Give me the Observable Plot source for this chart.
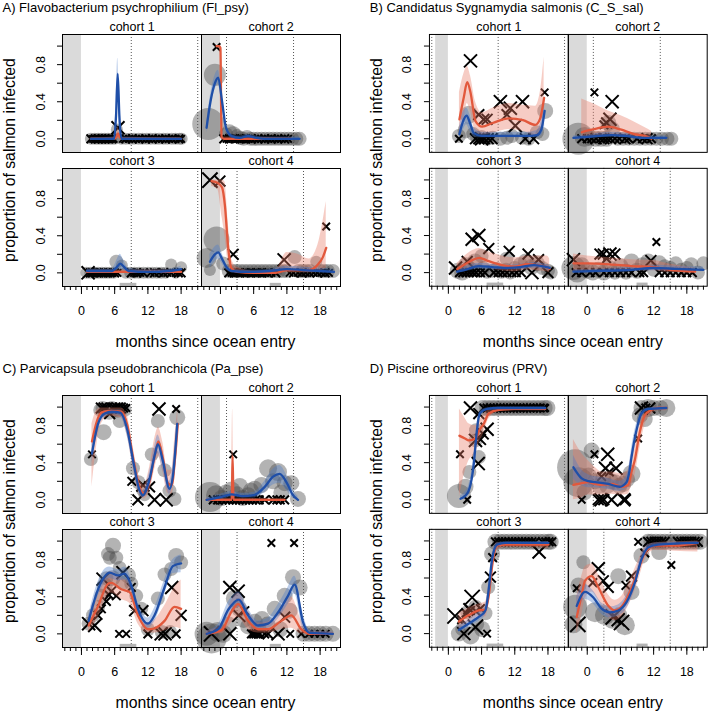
<!DOCTYPE html>
<html><head><meta charset="utf-8">
<script src="https://cdn.jsdelivr.net/npm/d3@7"></script>
<script src="https://cdn.jsdelivr.net/npm/@observablehq/plot@0.6"></script>
<style>
body{margin:0;background:#fff;font-family:"Liberation Sans",Arial,Helvetica,sans-serif;color:#000;}
#root{position:relative;width:708px;height:713px;overflow:hidden;background:#fff;}
.abs{position:absolute;white-space:nowrap;}
</style></head><body><div id="root"></div>
<script>
// ---------- labels ----------
const panelTitles = ["A) Flavobacterium psychrophilium (Fl_psy)", "B) Candidatus Sygnamydia salmonis (C_S_sal)",
  "C) Parvicapsula pseudobranchicola (Pa_pse)", "D) Piscine orthoreovirus (PRV)"];
const cohortLabels = ["cohort 1", "cohort 2", "cohort 3", "cohort 4"];
const xTitle = "months since ocean entry";
const yTitle = "proportion of salmon infected";
const xTickLabels = [0, 6, 12, 18];
const xMinorTicks = [-3,-2,-1,0,1,2,3,4,5,6,7,8,9,10,11,12,13,14,15,16,17,18,19,20,21];
const yTicks = [0, 0.2, 0.4, 0.6, 0.8, 1.0];
const yTickLabels = [0, 0.4, 0.8];
// [cohort, month]
const dottedLines = [[1,-3],[1,9],[1,21],[2,1.1],[2,13.2],[3,-3],[3,9],[3,21],[4,3],[4,15]];
// [cohort, from, to]
const sampleRects = [[3,7,10],[4,9,11]];
// shaded pre-entry period [cohort, from, to]  (null = axis start)
const shadeFull = [[1,null,0],[2,null,0],[3,null,0],[4,null,0]];
const shadePart = [[1,-2.3,0],[2,null,0],[3,-2.3,0],[4,null,0]];

// ---------- A) Fl_psy ----------  circles/crosses: [cohort, x, y, r]
const A_circles = [
[1,1.7,0,6],[1,2.4,0,6],[1,3.0,0,6],[1,3.6,0,6],[1,4.2,0,6],[1,4.8,0,6],[1,5.4,0,6],[1,6.0,0,6],[1,6.4,0.1,6],[1,7.2,0,6],[1,8.0,0,6],[1,8.8,0,6],[1,9.5,0,6],[1,10.3,0,6],[1,11.0,0,6],[1,11.8,0,6],[1,12.5,0,6],[1,13.3,0,6],[1,14.0,0,6],[1,14.8,0,6],[1,15.5,0,6],[1,16.3,0,6],[1,17.0,0,6],[1,17.7,0,6],[1,18.1,0,6],
[2,-2.2,0.16,16],[2,-1.0,0.69,11],[2,1.0,0.05,7],[2,1.6,0.07,8],[2,2.3,0.05,8],[2,3.0,0.03,7],[2,3.6,0.01,7],[2,4.2,0,7],[2,4.8,0.02,7],[2,5.4,0,7],[2,6.0,0,7],[2,6.7,0,7],[2,7.4,0,7],[2,8.1,0,7],[2,8.8,0,7],[2,9.5,0,7],[2,10.2,0,7],[2,10.9,0,7],[2,11.6,0,7],[2,12.3,0,7],[2,13.0,0,7],[2,13.7,0,7],[2,14.3,0,7],
[3,0.9,0,6],[3,1.6,0,6],[3,2.3,0,6],[3,3.0,0,6],[3,3.7,0,6],[3,4.4,0,6],[3,5.1,0,6],[3,5.8,0,6],[3,6.3,0.12,7],[3,7.3,0.08,6],[3,8.0,0,6],[3,8.8,0,6],[3,9.6,0,6],[3,10.4,0,6],[3,11.2,0,6],[3,12.0,0,6],[3,12.8,0,6],[3,13.6,0,6],[3,14.4,0,6],[3,15.2,0,6],[3,16.2,0.09,6],[3,17.0,0,6],[3,18.0,0.06,6],
[4,-2.5,0.16,10],[4,-1.9,0.03,6],[4,-0.7,0.36,13],[4,0.5,0.1,7],[4,1.5,0.02,7],[4,2.2,0.02,7],[4,2.9,0.02,7],[4,3.6,0.02,7],[4,4.3,0.02,7],[4,5.0,0.02,7],[4,5.7,0.02,7],[4,6.4,0.02,7],[4,7.1,0.02,7],[4,7.8,0.02,7],[4,8.5,0.02,7],[4,9.2,0.02,7],[4,9.9,0.02,7],[4,10.6,0.02,7],[4,11.3,0.02,7],[4,12.0,0.02,7],[4,13.4,0.17,7],[4,14.1,0.02,7],[4,14.8,0.02,7],[4,15.5,0.02,7],[4,16.2,0.02,7],[4,17.3,0.12,6],[4,18.0,0.02,7],[4,18.7,0.02,7],[4,19.4,0.02,7],[4,20.3,0.02,7]];
const A_crosses = [
[1,1.7,0,4],[1,2.1,0,3.5],[1,2.5,0,4],[1,2.8,0,3.5],[1,3.1,0,4],[1,3.4,0,3.5],[1,3.7,0,4],[1,4.0,0,3.5],[1,4.3,0,4],[1,4.6,0,3.5],[1,4.9,0,4],[1,5.2,0,3.5],[1,5.5,0,4],[1,5.8,0,3.5],[1,6.6,0.12,6],[1,7.5,0,3.5],[1,8.0,0,4],[1,8.6,0,3.5],[1,9.2,0,4],[1,9.8,0,3.5],[1,10.4,0,4],[1,11.0,0,3.5],[1,11.6,0,4],[1,12.2,0,3.5],[1,12.8,0,4],[1,13.4,0,3.5],[1,14.0,0,4],[1,14.6,0,3.5],[1,15.2,0,4],[1,15.8,0,3.5],[1,16.4,0,4],[1,17.0,0,3.5],[1,17.6,0,4],[1,18.0,0,3.5],
[2,-0.7,0.99,3.5],[2,0.6,0,4],[2,1.1,0,3.5],[2,1.6,0,4],[2,2.1,0,3.5],[2,2.6,0,4],[2,3.1,0,3.5],[2,3.6,0,4],[2,4.1,0,3.5],[2,4.6,0,4],[2,5.1,0,3.5],[2,5.6,0,4],[2,6.2,0,3.5],[2,6.8,0,4],[2,7.4,0,3.5],[2,8.0,0,4],[2,8.6,0,3.5],[2,9.2,0,4],[2,9.8,0,3.5],[2,10.4,0,4],[2,11.0,0,3.5],[2,11.6,0,4],[2,12.2,0,3.5],
[3,1.2,0,6],[3,1.6,0,4],[3,2.0,0,4],[3,2.4,0,3.5],[3,2.8,0,4],[3,3.2,0,3.5],[3,3.6,0,4],[3,4.0,0,3.5],[3,4.4,0,4],[3,4.8,0,3.5],[3,5.2,0,4],[3,5.6,0,3.5],[3,6.0,0,4],[3,6.5,0,3.5],[3,9.0,0,4],[3,9.5,0,3.5],[3,10.0,0,4],[3,10.6,0,3.5],[3,11.2,0,4],[3,12.5,0,3.5],[3,13.2,0,4],[3,14.0,0,3.5],[3,14.8,0,4],[3,15.5,0,3.5],[3,16.2,0,4],[3,17.0,0,3.5],[3,17.5,0,4],[3,18.0,0,4],
[4,-1.9,1.0,7],[4,-0.1,0.99,5],[4,2.3,0.2,5],[4,11.5,0.14,6],[4,19.1,0.5,3.5],[4,1.5,0,4],[4,2.0,0,3.5],[4,2.5,0,4],[4,3.0,0,3.5],[4,3.5,0,4],[4,4.0,0,3.5],[4,4.5,0,4],[4,5.0,0,3.5],[4,5.5,0,4],[4,6.0,0,3.5],[4,6.5,0,4],[4,7.0,0,3.5],[4,7.5,0,4],[4,8.0,0,3.5],[4,8.5,0,4],[4,9.2,0,3.5],[4,10.0,0,4],[4,12.5,0,3.5],[4,13.2,0,4],[4,14.0,0,3.5],[4,14.7,0,4],[4,15.4,0,3.5],[4,16.1,0,4],[4,16.8,0,3.5],[4,17.5,0,4],[4,18.2,0,3.5],[4,18.9,0,4],[4,19.6,0,3.5]];
// smooths: [cohort, x, fit, lower, upper]
const A_red = [
[1,1.7,0,0,0.01],[1,5.8,0,0,0.01],[1,6.3,0.02,0,0.06],[1,6.6,0.06,0,0.13],[1,6.9,0.02,0,0.06],[1,7.4,0,0,0.01],[1,18,0,0,0.01],
[2,-0.7,1.0,0.98,1.0],[2,-0.2,1.0,0.98,1.0],[2,0.0,0.98,0.95,1.0],[2,0.2,0.02,0,0.05],[2,0.6,0,0,0.02],[2,12.8,0,0,0.01],
[3,1.0,0.01,0,0.03],[3,6,0.01,0,0.03],[3,12,0.01,0,0.03],[3,18,0.01,0,0.03],
[4,-1.6,0.99,0.93,1.0],[4,-0.5,0.97,0.9,1.0],[4,0.3,0.92,0.6,1.0],[4,0.8,0.73,0.4,0.98],[4,1.4,0.27,0.1,0.55],[4,2.0,0.05,0,0.15],[4,3.0,0.01,0,0.06],[4,6,0,0,0.02],[4,10,0,0,0.04],[4,12,0.03,0,0.22],[4,14,0.03,0,0.2],[4,16,0.03,0,0.15],[4,17.6,0.09,0.01,0.3],[4,18.5,0.17,0.03,0.55],[4,19.1,0.27,0.05,0.77]];
const A_blue = [
[1,1.7,0,0,0.01],[1,5.9,0,0,0.02],[1,6.25,0.25,0.12,0.4],[1,6.55,0.7,0.55,0.87],[1,6.85,0.25,0.12,0.4],[1,7.2,0,0,0.02],[1,18,0,0,0.01],
[2,-2.5,0.12,0.06,0.18],[2,-1.8,0.4,0.33,0.47],[2,-1.0,0.6,0.53,0.68],[2,-0.4,0.66,0.59,0.74],[2,0.3,0.4,0.33,0.47],[2,1.0,0.12,0.08,0.16],[2,2.0,0.03,0.01,0.05],[2,3.5,0.01,0,0.03],[2,5.0,0.03,0.01,0.05],[2,6.5,0.01,0,0.03],[2,8,0,0,0.02],[2,14.3,0,0,0.02],
[3,1.0,0.02,0,0.04],[3,5.5,0.02,0,0.04],[3,6.5,0.07,0.03,0.15],[3,7.0,0.1,0.04,0.2],[3,7.6,0.07,0.03,0.14],[3,8.5,0.02,0,0.05],[3,12,0.01,0,0.03],[3,16,0.02,0,0.04],[3,18,0.04,0.01,0.07],
[4,-1.9,0.12,0.05,0.2],[4,-1.0,0.2,0.12,0.28],[4,-0.4,0.22,0.15,0.3],[4,0.3,0.15,0.1,0.21],[4,1.0,0.07,0.03,0.1],[4,2.0,0.02,0.01,0.04],[4,5,0.01,0,0.03],[4,9,0.02,0,0.04],[4,12,0.04,0.02,0.07],[4,15,0.03,0.01,0.06],[4,18,0.02,0,0.05],[4,20.5,0.01,0,0.04]];

// ---------- B) C_S_sal ----------
const B_circles = [
[1,1.9,0.03,7],[1,3.1,0.09,8],[1,3.7,0.26,9],[1,4.5,0.05,7],[1,5.2,0.01,7],[1,6.0,0.02,7],[1,7.0,0,7],[1,8.0,0.01,7],[1,9.4,0,7],[1,10.6,0.01,7],[1,11.5,0.03,7],[1,13.3,0.01,7],[1,14.5,0,7],[1,16.0,0.07,7],[1,17.0,0.05,7],[1,17.5,0.3,8],
[2,-1.6,0,16],[2,-0.5,0.02,10],[2,0.5,0.01,8],[2,1.5,0,8],[2,2.5,0,8],[2,3.5,0,8],[2,3.8,0.17,8],[2,4.5,0.1,8],[2,5.5,0,7],[2,6.5,0,7],[2,7.5,0,7],[2,8.5,0,7],[2,9.5,0,7],[2,10.5,0,7],[2,11.5,0,7],[2,12.5,0,7],[2,13.5,0,7],[2,14.5,0,7],[2,15.2,0,7],
[3,1.7,0.02,8],[3,2.5,0,8],[3,3.2,0.08,8],[3,4.0,0.03,8],[3,4.8,0.12,8],[3,5.5,0.02,7],[3,6.0,0.18,7],[3,6.3,0.05,7],[3,7.0,0.01,7],[3,8.0,0.02,7],[3,8.8,0.04,7],[3,9.6,0.01,7],[3,10.4,0.03,7],[3,10.5,0.15,7],[3,11.2,0,7],[3,12.0,0.05,7],[3,13.0,0.08,8],[3,14.0,0.12,8],[3,15.0,0.06,8],[3,16.0,0.1,8],[3,17.0,0.05,7],[3,18.0,0.02,7],[3,18.5,0,7],
[4,-2.5,0.05,12],[4,-1.8,0,10],[4,-1,0.08,8],[4,0,0.02,8],[4,1,0,8],[4,2,0.03,8],[4,3,0,8],[4,4,0.05,8],[4,5,0.01,8],[4,6,0.07,8],[4,7,0.01,8],[4,8,0.12,8],[4,9,0.02,8],[4,10,0.08,8],[4,11,0.12,8],[4,12,0.03,7],[4,13,0.1,8],[4,14,0.07,7],[4,15,0.05,7],[4,16,0.1,7],[4,17,0.03,7],[4,18,0.05,7],[4,18.8,0.09,7],[4,20,0,7],[4,21,0.1,7]];
const B_crosses = [
[1,4.0,0.84,6],[1,1.9,0,3.5],[1,5.5,0.26,5],[1,6.4,0.21,5],[1,7.0,0.21,5],[1,9.4,0.4,6],[1,11.2,0.33,6],[1,10.6,0.26,5],[1,12.1,0.14,6],[1,13.4,0.4,6],[1,17.4,0.5,3.5],[1,4.9,0,5],[1,5.5,0,5],[1,6.0,0,6],[1,6.5,0,5],[1,7.2,0,5],[1,7.9,0,5],[1,13.9,0,5],[1,15.4,0,5],
[2,1.3,0.5,3.5],[2,4.5,0.4,6],[2,4.1,0.21,6],[2,3.5,0.17,5],[2,3.0,0.15,4],[2,-1.0,0,4],[2,0.0,0,4],[2,0.8,0,4],[2,1.6,0,5],[2,2.4,0,4],[2,3.0,0,5],[2,3.6,0,4],[2,4.2,0,5],[2,5.0,0,4],[2,5.8,0,4],[2,6.8,0,5],[2,7.5,0,4],[2,9.0,0,4],[2,10.0,0,4],[2,10.8,0,5],[2,11.6,0,4],
[3,4.3,0.36,6],[3,5.5,0.4,6],[3,1.3,0.05,6],[3,3.4,0.12,5],[3,7.3,0.26,5],[3,11.0,0.23,5],[3,14.4,0.2,5],[3,16.3,0.14,5],[3,15.1,0,6],[3,18.0,0,5],[3,2.0,0,4],[3,2.6,0,4],[3,3.2,0,4],[3,3.8,0,4],[3,4.4,0,4],[3,5.0,0,4],[3,5.8,0,4],[3,6.6,0,4],[3,8.2,0,4],[3,9.0,0,4],[3,9.8,0,4],[3,10.6,0,4],[3,11.5,0,4],[3,12.3,0,4],[3,13.2,0,4],
[4,-2.5,0.14,6],[4,2.3,0.2,5],[4,2.9,0.2,5],[4,3.5,0.15,4],[4,4.1,0.2,6],[4,5.0,0.2,5],[4,11.5,0.13,5],[4,12.5,0.33,3.5],[4,-2,0,4],[4,-1,0,4],[4,0.5,0,4],[4,1.5,0,4],[4,3,0,4],[4,4,0,4],[4,5,0,4],[4,6,0,4],[4,7,0,4],[4,8,0,4],[4,9.5,0,4],[4,10.2,0,4],[4,13,0,4],[4,14,0,4],[4,15,0,4],[4,16,0,4],[4,17,0,4],[4,18,0,4],[4,19,0,4]];
const B_red = [
[1,2.0,0.21,0.05,0.5],[1,2.8,0.45,0.2,0.7],[1,3.4,0.61,0.38,0.78],[1,4.0,0.5,0.3,0.68],[1,4.9,0.19,0.07,0.4],[1,6.1,0.13,0.04,0.28],[1,8,0.17,0.06,0.33],[1,10.9,0.22,0.1,0.38],[1,13.5,0.2,0.08,0.36],[1,15.7,0.15,0.03,0.35],[1,16.6,0.22,0.05,0.5],[1,17.3,0.44,0.15,0.88],
[2,-1.0,0.07,0,0.43],[2,1.0,0.1,0.02,0.38],[2,3.8,0.13,0.04,0.3],[2,6,0.1,0.02,0.25],[2,8.5,0.05,0.01,0.18],[2,10.4,0.03,0,0.12],[2,11.6,0,0,0.08],
[3,1.6,0.04,0,0.1],[3,3.0,0.09,0.02,0.18],[3,4.5,0.14,0.06,0.24],[3,5.6,0.16,0.08,0.26],[3,7.0,0.13,0.06,0.23],[3,8.5,0.1,0.03,0.2],[3,9.7,0.08,0.02,0.18],[3,12.1,0.065,0.01,0.16],[3,14.2,0.09,0.03,0.18],[3,16,0.08,0.02,0.18],[3,17.8,0.06,0.01,0.18],[3,18.3,0.04,0,0.15],
[4,-2.5,0.1,0,0.2],[4,0,0.1,0.02,0.18],[4,4,0.09,0.03,0.16],[4,8,0.07,0.02,0.14],[4,12,0.06,0.02,0.13],[4,15,0.03,0,0.09],[4,19.5,0.01,0,0.05]];
const B_blue = [
[1,2.0,0.05,0,0.12],[1,2.6,0.18,0.08,0.28],[1,3.3,0.25,0.15,0.33],[1,3.9,0.17,0.08,0.26],[1,4.6,0.06,0.02,0.12],[1,6,0.03,0.01,0.07],[1,10,0.03,0.01,0.07],[1,14,0.03,0.01,0.07],[1,16.0,0.04,0.01,0.09],[1,16.8,0.1,0.03,0.2],[1,17.4,0.3,0.12,0.45],
[2,-2.5,0.01,0,0.03],[2,0,0.02,0,0.04],[2,2,0.03,0.01,0.06],[2,4.4,0.04,0.02,0.07],[2,7,0.03,0.01,0.06],[2,10,0.01,0,0.03],[2,14.3,0.01,0,0.03],
[3,1.6,0.01,0,0.03],[3,3,0.03,0.01,0.06],[3,5.5,0.07,0.04,0.1],[3,8,0.06,0.03,0.09],[3,10.5,0.05,0.03,0.08],[3,13,0.06,0.03,0.09],[3,15.5,0.08,0.05,0.11],[3,18.3,0.05,0.02,0.08],
[4,-2.5,0.01,0,0.03],[4,3,0.02,0,0.04],[4,8,0.03,0.01,0.06],[4,12,0.05,0.02,0.08],[4,16,0.04,0.02,0.07],[4,21,0.03,0.01,0.06]];

// ---------- C) Pa_pse ----------
const C_circles = [
[1,1.7,0.44,7],[1,3.4,0.97,7],[1,3.8,0.99,7],[1,4.0,0.73,8],[1,4.5,0.97,7],[1,5.0,0.95,8],[1,5.5,0.99,7],[1,6.0,0.97,7],[1,6.5,0.96,7],[1,6.9,0.85,7],[1,7.3,0.98,7],[1,7.8,0.97,7],[1,9.3,0.34,7],[1,10.3,0.19,7],[1,11.0,0.1,6],[1,11.4,0.05,6],[1,12.7,0.49,7],[1,13.8,0.85,7],[1,15.0,0.32,7],[1,15.9,0.1,7],[1,16.8,0.01,7],[1,17.3,0.89,8],
[2,-1.9,0.03,15],[2,-0.8,0.05,10],[2,0.2,0.02,8],[2,1.0,0.08,8],[2,2.0,0.1,9],[2,3.0,0.06,8],[2,3.5,0.15,8],[2,4.0,0.02,8],[2,5.0,0.05,8],[2,5.5,0.1,8],[2,6.2,0.12,8],[2,7.4,0.16,8],[2,8.6,0.34,9],[2,9.5,0.2,8],[2,10.4,0.3,9],[2,11.0,0.08,8],[2,11.6,0.18,8],[2,12.8,0.18,8],[2,14.0,0.01,8],
[3,1.3,0.11,7],[3,2.1,0.2,7],[3,3.0,0.29,7],[3,3.6,0.41,7],[3,4.2,0.52,8],[3,4.5,0.6,7],[3,4.8,0.86,7],[3,5.1,0.82,7],[3,5.6,0.6,8],[3,5.7,0.95,8],[3,6.3,0.82,7],[3,6.9,0.71,7],[3,7.5,0.55,7],[3,8.4,0.63,8],[3,9.0,0.54,7],[3,9.9,0.41,7],[3,10.8,0.27,7],[3,12.0,0.05,7],[3,13.8,0.38,7],[3,14.5,0.02,7],[3,15.0,0.64,7],[3,16.0,0.02,7],[3,16.2,0.7,7],[3,17.1,0.84,8],[3,18.0,0.77,7],
[4,-2.5,0,12],[4,-1.6,-0.05,15],[4,-0.5,0.02,10],[4,0.5,0,9],[4,1.5,0.1,8],[4,2.6,0.38,9],[4,3.4,0.27,8],[4,4.2,0.15,8],[4,5.0,0.08,8],[4,6.2,0.13,8],[4,6.9,0.05,8],[4,7.5,0.16,8],[4,8.5,0.1,8],[4,9.8,0.27,8],[4,10.8,0.05,8],[4,11.6,0.41,8],[4,12.5,0.25,8],[4,13.1,0.61,8],[4,14.3,0.5,8],[4,15,0,8],[4,16,0,8],[4,17,0,8],[4,18,0,8],[4,19,0,8],[4,20.3,0,8]];
const C_crosses = [
[1,1.9,0.49,3.5],[1,3.6,0.99,5],[1,4.1,0.99,5],[1,4.6,0.99,5],[1,5.1,0.93,5],[1,5.5,0.99,5],[1,6.0,0.99,5],[1,6.5,0.99,5],[1,7.0,0.99,5],[1,7.6,0.99,4],[1,8.1,0.99,3.5],[1,9.1,0.2,4],[1,10.2,0,5],[1,11.1,0.16,6],[1,12.3,0.14,5],[1,13.2,0,6],[1,14.0,0.98,6],[1,15.3,0,6],[1,17.1,0.98,3.5],
[2,2.3,0.49,3.5],[2,-1.3,0,4],[2,-0.5,0,4],[2,0.3,0,4],[2,1.0,0,4],[2,1.6,0,4],[2,2.2,0,4],[2,2.8,0,4],[2,3.4,0,4],[2,4.0,0,4],[2,4.6,0,4],[2,5.2,0,4],[2,5.8,0,4],[2,6.4,0,4],[2,7.0,0,4],[2,8.0,0,4],[2,9.5,0,4],[2,10.2,0,4],[2,10.8,0,4],[2,11.6,0,4],
[3,1.3,0.11,6],[3,2.4,0.09,6],[3,3.0,0.2,4],[3,3.6,0.27,4],[3,3.9,0.59,6],[3,4.5,0.35,4],[3,5.0,0.42,4],[3,5.4,0.46,5],[3,6.3,0.41,4],[3,7.5,0.66,6],[3,9.0,0.5,4],[3,9.6,0.25,5],[3,11.1,0.25,5],[3,6.8,0,3.5],[3,8.1,0,3.5],[3,12.0,0,4],[3,14.4,0,6],[3,15.1,0,6],[3,17.1,0,4],[3,16.3,0.5,6],[3,18.0,0.2,5],
[4,1.7,0.5,6],[4,3.2,0.46,6],[4,3.3,0.2,6],[4,4.4,0.25,4],[4,9.2,0.98,3.5],[4,13.3,0.98,3.5],[4,11.6,0.18,5],[4,-1.6,0,7],[4,1.7,0,6],[4,5.6,0,4],[4,6.0,0,4],[4,6.4,0,4],[4,6.8,0,4],[4,7.1,0,4],[4,8.0,0,4],[4,8.6,0,5],[4,10.4,0,6],[4,12.6,0,3.5],[4,14.6,0,3.5],[4,16,0,3.5],[4,17,0,3.5],[4,18,0,3.5],[4,19,0,3.5]];
const C_red = [
[1,1.9,0.63,0.14,0.82],[1,2.8,0.85,0.6,0.97],[1,3.6,0.94,0.82,0.99],[1,5.0,0.96,0.9,0.99],[1,7.2,0.95,0.88,0.99],[1,8.3,0.8,0.68,0.9],[1,9.3,0.46,0.35,0.58],[1,10.3,0.17,0.08,0.28],[1,11.3,0.07,0.01,0.16],[1,12.3,0.2,0.09,0.35],[1,13.3,0.5,0.35,0.68],[1,13.9,0.63,0.47,0.78],[1,14.7,0.45,0.3,0.62],[1,15.6,0.18,0.07,0.32],[1,16.3,0.16,0.06,0.32],[1,16.9,0.45,0.25,0.7],[1,17.4,0.82,0.6,0.98],
[2,-2.5,0,0,0.01],[2,1.9,0,0,0.02],[2,2.05,0,0,0.4],[2,2.2,0.47,0,0.98],[2,2.35,0,0,0.4],[2,2.5,0,0,0.02],[2,11.6,0,0,0.01],
[3,1.3,0.09,0.02,0.18],[3,3.0,0.3,0.18,0.42],[3,4.8,0.54,0.42,0.66],[3,5.4,0.55,0.44,0.67],[3,7.2,0.48,0.37,0.6],[3,8.7,0.45,0.33,0.57],[3,10.2,0.2,0.11,0.3],[3,12,0.05,0.01,0.12],[3,13.2,0.06,0.01,0.15],[3,15,0.14,0.03,0.3],[3,16.8,0.29,0.07,0.5],[3,18,0.27,0.05,0.58],
[4,-2.5,0,0,0.03],[4,0.2,0.04,0,0.1],[4,2.0,0.24,0.12,0.36],[4,3.2,0.32,0.18,0.44],[4,5.0,0.14,0.05,0.25],[4,6.8,0.05,0.01,0.12],[4,8.6,0.05,0.01,0.13],[4,11.0,0.14,0.05,0.28],[4,12.8,0.2,0.06,0.4],[4,14.6,0.05,0,0.15],[4,16.1,0,0,0.03],[4,20.3,0,0,0.02]];
const C_blue = [
[1,1.9,0.5,0.4,0.6],[1,3.0,0.82,0.74,0.88],[1,4.2,0.93,0.89,0.96],[1,5.5,0.95,0.92,0.97],[1,7.0,0.94,0.9,0.97],[1,8.3,0.75,0.68,0.82],[1,9.5,0.37,0.3,0.44],[1,10.4,0.12,0.07,0.18],[1,11.1,0.05,0.02,0.1],[1,12.2,0.2,0.13,0.28],[1,13.3,0.5,0.4,0.6],[1,13.8,0.6,0.5,0.7],[1,14.7,0.42,0.32,0.52],[1,15.9,0.12,0.06,0.2],[1,16.6,0.3,0.2,0.42],[1,17.3,0.82,0.72,0.9],
[2,-2.5,0,0,0.02],[2,0,0.03,0,0.06],[2,2.0,0.06,0.03,0.09],[2,4.0,0.04,0.02,0.07],[2,6.0,0.05,0.02,0.08],[2,8.0,0.14,0.08,0.2],[2,9.5,0.25,0.16,0.33],[2,10.7,0.28,0.18,0.37],[2,12.0,0.18,0.1,0.26],[2,13.0,0.06,0.02,0.12],[2,14.0,0,0,0.04],
[3,1.3,0.14,0.08,0.2],[3,3.0,0.48,0.4,0.56],[3,4.5,0.64,0.57,0.71],[3,5.1,0.66,0.6,0.72],[3,6.6,0.63,0.57,0.69],[3,7.8,0.65,0.58,0.72],[3,9.0,0.52,0.45,0.59],[3,10.2,0.27,0.2,0.34],[3,12.0,0.11,0.06,0.17],[3,13.2,0.2,0.13,0.28],[3,15.0,0.5,0.42,0.58],[3,16.5,0.73,0.65,0.8],[3,18.0,0.76,0.66,0.85],
[4,-2.5,0,0,0.03],[4,-0.4,0.05,0.01,0.1],[4,1.4,0.26,0.18,0.34],[4,3.3,0.37,0.29,0.45],[4,5.0,0.2,0.14,0.27],[4,6.8,0.09,0.05,0.14],[4,8.6,0.11,0.06,0.17],[4,10.4,0.23,0.16,0.31],[4,12.2,0.41,0.32,0.5],[4,13.4,0.53,0.43,0.62],[4,14.9,0.13,0.06,0.22],[4,16.1,0.01,0,0.04],[4,20.3,0,0,0.02]];

// ---------- D) PRV ----------
const D_circles = [
[1,1.9,0.04,12],[1,3.1,0.14,8],[1,3.8,0.3,7],[1,4.9,0.64,7],[1,5.5,0.46,7],[1,5.0,0.75,7],[1,6.2,0.99,8],[1,7.0,0.99,8],[1,7.8,0.99,8],[1,8.6,0.99,8],[1,9.4,0.99,8],[1,10.2,0.99,8],[1,11.0,0.99,8],[1,11.8,0.99,8],[1,12.6,0.99,8],[1,13.4,0.99,8],[1,14.2,0.99,8],[1,15.0,0.99,8],[1,15.8,0.99,8],[1,16.6,0.99,8],[1,17.4,0.99,8],[1,17.9,0.99,8],
[2,-2.2,0.35,18],[2,-1.6,0.19,15],[2,-0.5,0.08,8],[2,0.2,0.25,9],[2,0.8,0.53,8],[2,1.5,0.2,8],[2,2.2,0.15,8],[2,2.9,0.23,8],[2,3.6,0.15,8],[2,4.3,0.2,8],[2,5.0,0.19,8],[2,5.8,0.15,8],[2,6.5,0.17,8],[2,7.2,0.22,8],[2,8.0,0.28,9],[2,9.5,0.91,8],[2,9.8,0.99,8],[2,10.4,0.87,8],[2,11.0,0.99,9],[2,12.0,0.99,8],[2,13.2,0.99,8],[2,14.3,0.99,9],
[3,1.9,0,8],[3,2.5,0.05,7],[3,3.4,0.23,7],[3,4.0,-0.02,9],[3,4.9,0.29,7],[3,5.2,0.1,7],[3,6.1,0.05,8],[3,6.7,0.22,7],[3,7.2,0.5,7],[3,7.9,0.86,8],[3,8.5,0.99,8],[3,9.3,0.99,8],[3,10.1,0.99,8],[3,10.9,0.99,8],[3,11.7,0.99,8],[3,12.5,0.99,8],[3,13.3,0.99,8],[3,14.1,0.99,8],[3,14.9,0.99,8],[3,15.7,0.99,8],[3,16.5,0.99,8],[3,17.3,0.99,8],[3,18.1,0.99,8],[3,18.5,0.99,8],
[4,-2.5,0.1,9],[4,-2.2,0.29,12],[4,-1.6,0.52,8],[4,-0.7,0.77,7],[4,1.4,0.23,10],[4,3.2,0.2,10],[4,4.5,0.15,9],[4,5.6,0.62,8],[4,5.8,0.2,8],[4,6.8,0.09,10],[4,8.0,0.45,8],[4,9.8,0.84,8],[4,11.0,0.99,8],[4,11.6,0.99,8],[4,12.4,0.99,8],[4,13.0,0.88,8],[4,13.2,0.99,8],[4,14.0,0.99,8],[4,14.8,0.99,8],[4,15.6,0.99,8],[4,16.4,0.99,8],[4,17.2,0.99,8],[4,18.0,0.99,8],[4,18.8,0.99,8],[4,19.6,0.99,8],[4,20.4,0.99,8]];
const D_crosses = [
[1,4.0,0.99,6],[1,5.5,0.93,5],[1,2.1,0.49,3.5],[1,3.4,0,3.5],[1,5.4,0.39,6],[1,4.9,0.64,6],[1,5.8,0.65,5],[1,6.3,0.71,5],[1,7.0,0.76,6],[1,6.4,0.99,4],[1,7.0,0.99,4],[1,7.6,0.99,4],[1,8.2,0.99,4],[1,8.8,0.99,4],[1,9.4,0.99,4],[1,10.0,0.99,4],[1,10.6,0.99,4],[1,11.2,0.99,4],[1,11.8,0.99,4],[1,12.4,0.99,4],[1,13.0,0.99,4],[1,13.6,0.99,4],[1,14.2,0.99,4],[1,14.8,0.99,4],[1,15.4,0.99,4],[1,16.0,0.99,4],[1,16.6,0.99,4],[1,17.2,0.99,4],[1,17.5,0.99,3.5],
[2,1.3,0.49,3.5],[2,3.7,0.49,6],[2,3.3,0.34,6],[2,5.2,0.34,6],[2,-1.0,0,3.5],[2,2.0,0,5],[2,2.5,0,6],[2,3.0,0,5],[2,4.4,0,6],[2,6.6,0,6],[2,6.9,0,5],[2,2.6,0.25,4],[2,4.0,0.3,4],[2,9.2,0.66,3.5],[2,9.8,0.99,6],[2,10.6,0.99,4],[2,11.3,0.99,5],
[3,1.2,0.19,7],[3,2.4,0.15,4],[3,2.8,0,6],[3,3.2,0.22,4],[3,3.7,0.27,5],[3,4.0,0.25,4],[3,4.3,0.39,7],[3,4.9,0.07,7],[3,5.0,0.24,4],[3,5.8,0.27,4],[3,7.0,0,3.5],[3,7.6,0.61,5],[3,8.0,0.82,4],[3,8.5,0.99,4],[3,9.1,0.99,4],[3,9.7,0.99,4],[3,10.3,0.99,4],[3,10.9,0.99,4],[3,11.5,0.99,4],[3,12.1,0.99,4],[3,12.7,0.99,4],[3,13.3,0.99,4],[3,13.9,0.99,4],[3,14.5,0.99,4],[3,15.1,0.99,4],[3,15.7,0.99,4],[3,16.4,0.88,6],[3,17.0,0.99,4],[3,17.6,0.99,4],[3,18.2,0.99,4],[3,18.7,0.99,4],
[4,-1.7,0.1,7],[4,-1.9,0.49,3.5],[4,1.0,0.55,4],[4,2.0,0.7,6],[4,2.9,0.57,5],[4,3.8,0.5,5],[4,4.7,0.18,7],[4,5.6,0.15,6],[4,6.2,0.12,7],[4,7.0,0.52,4],[4,8.0,0.62,5],[4,9.2,0.99,3.5],[4,10.4,0.87,4],[4,15.2,0.74,3.5],[4,11.0,0.99,4.5],[4,11.6,0.99,4.5],[4,12.2,0.99,4.5],[4,12.8,0.99,4.5],[4,13.4,0.99,4.5],[4,14.0,0.99,4.5],[4,16.4,0.99,4.5],[4,17.0,0.99,4.5],[4,17.6,0.99,4.5],[4,18.2,0.99,4.5],[4,18.8,0.99,4.5],[4,19.4,0.99,4.5],[4,20.0,0.99,4.5]];
const D_red = [
[1,2.0,0.69,0.03,0.98],[1,3.0,0.66,0.3,0.88],[1,3.7,0.64,0.42,0.82],[1,4.9,0.66,0.5,0.8],[1,5.6,0.75,0.62,0.86],[1,6.4,0.82,0.72,0.92],[1,7.3,0.93,0.87,0.97],[1,9.1,0.97,0.95,0.99],[1,12,0.98,0.96,0.99],[1,17.5,0.98,0.96,0.99],
[2,-2.5,0.16,0,0.65],[2,-1.0,0.18,0.02,0.5],[2,0.2,0.19,0.05,0.42],[2,1.4,0.17,0.05,0.35],[2,2.6,0.16,0.05,0.3],[2,4.4,0.17,0.06,0.3],[2,6.2,0.14,0.05,0.28],[2,7.4,0.16,0.06,0.32],[2,8.0,0.3,0.15,0.5],[2,8.6,0.43,0.26,0.62],[2,9.5,0.73,0.55,0.87],[2,10.4,0.91,0.8,0.97],[2,11.6,0.97,0.92,0.99],[2,12.8,0.99,0.96,1.0],[2,14.3,0.99,0.96,1.0],
[3,1.9,0.13,0.05,0.22],[3,3.7,0.2,0.12,0.28],[3,5.5,0.25,0.18,0.32],[3,6.7,0.26,0.18,0.34],[3,7.3,0.41,0.3,0.52],[3,8.0,0.77,0.65,0.86],[3,8.8,0.95,0.9,0.98],[3,10.3,0.96,0.93,0.98],[3,14.5,0.96,0.93,0.98],[3,18.1,0.96,0.92,0.99],
[4,-1.9,0.18,0,0.4],[4,-1.0,0.42,0.2,0.62],[4,-0.4,0.57,0.38,0.72],[4,0.8,0.62,0.45,0.75],[4,2.0,0.5,0.36,0.64],[4,3.8,0.3,0.18,0.42],[4,5.0,0.25,0.14,0.36],[4,6.2,0.29,0.18,0.4],[4,7.7,0.45,0.33,0.57],[4,9.2,0.68,0.56,0.78],[4,10.4,0.87,0.79,0.93],[4,12.2,0.95,0.9,0.98],[4,15.8,0.95,0.89,0.99],[4,20.0,0.98,0.88,1.0]];
const D_blue = [
[1,2.2,0.01,0,0.04],[1,3.0,0.04,0.01,0.08],[1,3.7,0.1,0.05,0.16],[1,4.2,0.22,0.15,0.3],[1,4.6,0.39,0.3,0.48],[1,5.0,0.65,0.56,0.73],[1,5.4,0.86,0.8,0.9],[1,5.8,0.94,0.91,0.96],[1,7.0,0.98,0.97,0.99],[1,9,0.99,0.98,1.0],[1,17.5,0.99,0.98,1.0],
[2,-2.5,0.35,0.22,0.48],[2,-1.0,0.23,0.15,0.32],[2,0.2,0.2,0.13,0.27],[2,1.4,0.19,0.13,0.25],[2,3.8,0.17,0.11,0.23],[2,5.9,0.14,0.09,0.2],[2,7.1,0.19,0.12,0.26],[2,7.6,0.3,0.22,0.38],[2,8.0,0.46,0.37,0.55],[2,8.9,0.75,0.67,0.82],[2,9.8,0.93,0.89,0.96],[2,11.0,0.98,0.96,0.99],[2,14.3,0.99,0.98,1.0],
[3,1.9,0.04,0.01,0.08],[3,3.7,0.11,0.07,0.15],[3,5.5,0.18,0.13,0.23],[3,6.7,0.25,0.2,0.3],[3,7.3,0.48,0.4,0.56],[3,7.9,0.8,0.73,0.86],[3,8.8,0.96,0.94,0.98],[3,10.3,0.98,0.97,0.99],[3,18.1,0.98,0.97,0.99],
[4,-1.9,0.3,0.2,0.4],[4,-0.4,0.45,0.37,0.53],[4,1.1,0.39,0.32,0.46],[4,2.6,0.27,0.21,0.33],[4,4.1,0.23,0.17,0.29],[4,5.6,0.25,0.19,0.31],[4,7.1,0.34,0.27,0.41],[4,8.6,0.55,0.48,0.62],[4,9.8,0.8,0.74,0.85],[4,11.0,0.93,0.9,0.96],[4,12.8,0.96,0.94,0.98],[4,20.0,0.98,0.97,0.99]];

// ---------- layout / style ----------
const FONT = '"Liberation Sans", Arial, Helvetica, sans-serif';
const RED = "#e2583c", BLUE = "#1f4fa8";
const X_DOMAIN = [-3.42, 21.68];
const Y_DOMAIN = [-0.147, 1.125];
const ML = 61, MT = 33, MR = 1, MB = 40, FW = 279, FH = 254;
const col = c => (c - 1) % 2;
const row = c => (c <= 2 ? 0 : 1);

const panels = [
  {L: 61, T: 33, title: panelTitles[0], circles: A_circles, crosses: A_crosses, red: A_red, blue: A_blue, shade: shadeFull},
  {L: 428.3, T: 33, title: panelTitles[1], circles: B_circles, crosses: B_crosses, red: B_red, blue: B_blue, shade: shadePart},
  {L: 61, T: 394.3, title: panelTitles[2], circles: C_circles, crosses: C_crosses, red: C_red, blue: C_blue, shade: shadeFull},
  {L: 428.3, T: 394.3, title: panelTitles[3], circles: D_circles, crosses: D_crosses, red: D_red, blue: D_blue, shade: shadePart}
];

const root = document.getElementById("root");
function addText(txt, css) {
  const d = document.createElement("div");
  d.className = "abs";
  d.textContent = txt;
  Object.assign(d.style, css);
  root.appendChild(d);
}

const fxOf = d => col(d[0]), fyOf = d => row(d[0]);

for (const p of panels) {
  const chart = Plot.plot({
    width: ML + FW + MR, height: MT + FH + MB,
    marginLeft: ML, marginTop: MT, marginRight: MR, marginBottom: MB,
    x: {domain: X_DOMAIN},
    y: {domain: Y_DOMAIN},
    fx: {domain: [0, 1], padding: 0, axis: null},
    fy: {domain: [0, 1], paddingInner: 0.1185, paddingOuter: 0, axis: null},
    r: {type: "identity"},
    style: {fontFamily: FONT, fontSize: "12px", color: "black", background: "none", overflow: "visible"},
    marks: [
      Plot.ruleX(dottedLines, {x: d => d[1], fx: fxOf, fy: fyOf, stroke: "#555", strokeWidth: 1, strokeDasharray: "1,2"}),
      Plot.rect(p.shade, {x1: d => d[1] ?? X_DOMAIN[0], x2: d => d[2], fx: fxOf, fy: fyOf, fill: "#dadada"}),
      Plot.rect(sampleRects, {x1: d => d[1], x2: d => d[2], y1: Y_DOMAIN[0], y2: Y_DOMAIN[0] + 0.034, fx: fxOf, fy: fyOf, fill: "#b5b5b5"}),
      Plot.dot(p.circles, {x: d => d[1], y: d => d[2], r: d => d[3], fx: fxOf, fy: fyOf, fill: "#4a4a4a", fillOpacity: 0.42, stroke: "none"}),
      Plot.dot(p.crosses, {x: d => d[1], y: d => d[2], r: d => d[3], fx: fxOf, fy: fyOf, symbol: "times", stroke: "black", strokeWidth: 2}),
      Plot.areaY(p.red, {x: d => d[1], y1: d => d[3], y2: d => d[4], z: d => d[0], fx: fxOf, fy: fyOf, fill: "#e77a63", fillOpacity: 0.38, curve: "monotone-x"}),
      Plot.areaY(p.blue, {x: d => d[1], y1: d => d[3], y2: d => d[4], z: d => d[0], fx: fxOf, fy: fyOf, fill: "#4d7bc9", fillOpacity: 0.38, curve: "monotone-x"}),
      Plot.line(p.red, {x: d => d[1], y: d => d[2], z: d => d[0], fx: fxOf, fy: fyOf, stroke: RED, strokeWidth: 2.3, curve: "monotone-x"}),
      Plot.line(p.blue, {x: d => d[1], y: d => d[2], z: d => d[0], fx: fxOf, fy: fyOf, stroke: BLUE, strokeWidth: 2.3, curve: "monotone-x"}),
      Plot.frame({stroke: "black", strokeWidth: 1}),
      Plot.text(cohortLabels, {fx: (d, i) => i % 2, fy: (d, i) => (i < 2 ? 0 : 1), text: d => d, frameAnchor: "top", dy: -7.5, lineAnchor: "middle", fontSize: 12.5, fill: "black"}),
      Plot.axisX({ticks: xMinorTicks, tickSize: 4, fill: "none", label: null, stroke: "black"}),
      Plot.axisX({ticks: xTickLabels, tickSize: 8, tickPadding: 12, fontSize: 12.5, label: null, stroke: "black", fill: "black"}),
      Plot.axisY({ticks: yTicks, tickSize: 5, fill: "none", label: null, stroke: "black"}),
      Plot.axisY({ticks: yTickLabels, tickSize: 0, tickPadding: 18, tickRotate: -90, tickFormat: d3.format(".1f"), fontSize: 12.5, label: null, fill: "black"})
    ]
  });
  const wrap = document.createElement("div");
  wrap.className = "abs";
  wrap.style.left = (p.L - ML) + "px";
  wrap.style.top = (p.T - MT) + "px";
  wrap.appendChild(chart);
  root.appendChild(wrap);

  addText(p.title, {left: (p.L - 58.5) + "px", top: (p.T - 33) + "px", fontSize: "13px", lineHeight: "16px"});
  addText(xTitle, {left: (p.L + FW / 2 + 5 - 150) + "px", top: (p.T + FH + 55 - 10) + "px", width: "300px", textAlign: "center", fontSize: "15.8px", lineHeight: "20px"});
  addText(yTitle, {left: (p.L - 51.5 - 150) + "px", top: (p.T + FH / 2 - 10) + "px", width: "300px", textAlign: "center", fontSize: "15.8px", lineHeight: "20px", transform: "rotate(-90deg)"});
}
</script>
</body></html>
